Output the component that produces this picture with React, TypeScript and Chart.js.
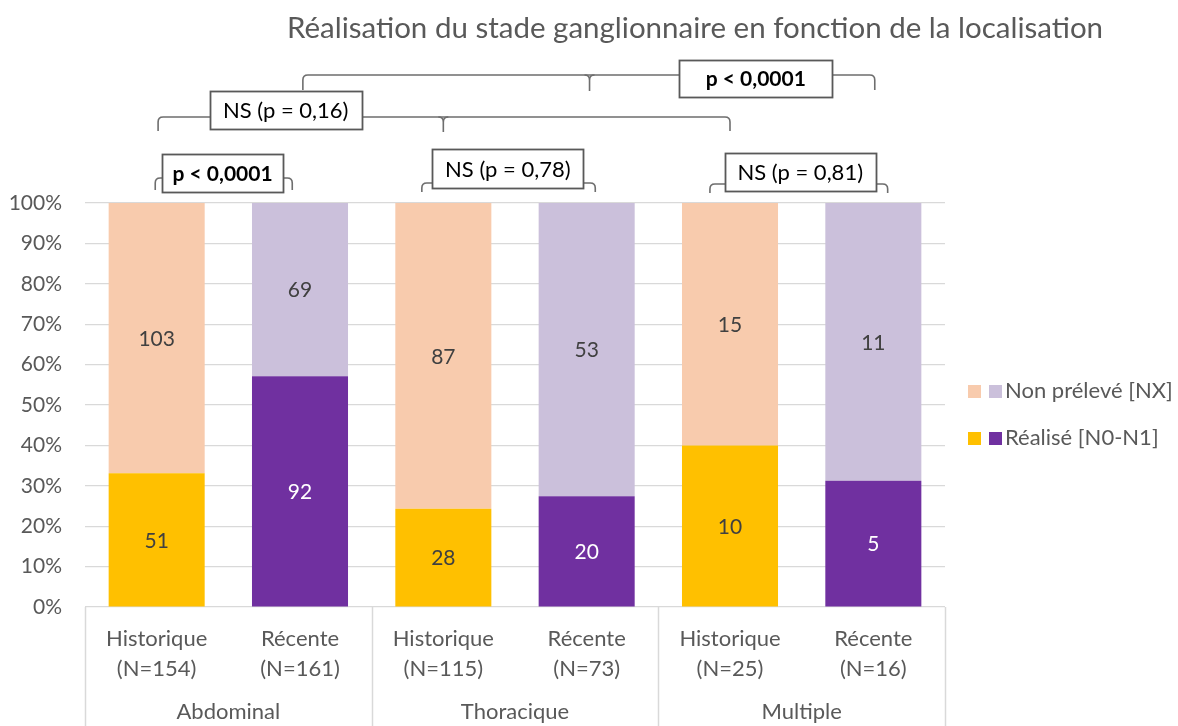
import React, { useEffect, useRef } from 'react';
import { Chart, registerables } from 'chart.js';

Chart.register(...registerables);

const periods = ['Historique', 'Récente', 'Historique', 'Récente', 'Historique', 'Récente'];
const totals = ['(N=154)', '(N=161)', '(N=115)', '(N=73)', '(N=25)', '(N=16)'];
const groups = ['Abdominal', 'Thoracique', 'Multiple'];
const realise = [51, 92, 28, 20, 10, 5];
const nonPreleve = [103, 69, 87, 53, 15, 11];
const yTicks = [0, 10, 20, 30, 40, 50, 60, 70, 80, 90, 100];
const legendLabels = ['Non prélevé [NX]', 'Réalisé [N0-N1]'];

const ORANGE = '#FFC000';
const PEACH = '#F8CBAD';
const PURPLE = '#7030A0';
const LAVENDER = '#CBC0DB';
const FONT = 'Lato, "Open Sans", sans-serif';
const TXT = '#595959';

// annotation brackets: x in category-index units, y in canvas px
const brackets = [
  { x1: -0.01, xm: null, x2: 0.946, y: 178, yb: 190, cx: 0.46, w: 121, bt: 154, bh: 38, text: 'p < 0,0001', bold: true },
  { x1: 0.01, xm: 2.0, x2: 4.0, y: 117, yb: 131, cx: 0.9, w: 152, bt: 91, bh: 38, text: 'NS (p = 0,16)', bold: false },
  { x1: 1.02, xm: 3.02, x2: 5.01, y: 75, yb: 90, cx: 4.18, w: 153, bt: 60, bh: 37, text: 'p < 0,0001', bold: true },
  { x1: 1.85, xm: null, x2: 3.06, y: 183, yb: 192, cx: 2.45, w: 151, bt: 149, bh: 39, text: 'NS (p = 0,78)', bold: false },
  { x1: 3.86, xm: null, x2: 5.1, y: 184, yb: 193, cx: 4.49, w: 151, bt: 153, bh: 38, text: 'NS (p = 0,81)', bold: false },
];

const pct = (a: number[], b: number[]) => a.map((v, i) => (v / (v + b[i])) * 100);

const overlayPlugin = {
  id: 'overlay',
  afterDatasetsDraw(chart: any) {
    const ctx = chart.ctx;
    ctx.save();
    ctx.font = `21px ${FONT}`;
    ctx.textAlign = 'center';
    ctx.textBaseline = 'middle';
    chart.data.datasets.forEach((ds: any, di: number) => {
      const meta = chart.getDatasetMeta(di);
      meta.data.forEach((bar: any, i: number) => {
        const counts = di === 0 ? realise : nonPreleve;
        const y = (bar.y + bar.base) / 2;
        const isPurple = di === 0 && i % 2 === 1;
        ctx.fillStyle = isPurple ? '#FFFFFF' : '#404040';
        ctx.fillText(String(counts[i]), bar.x, y + 1);
      });
    });
    ctx.restore();
  },
  afterDraw(chart: any) {
    const ctx = chart.ctx;
    const xs = chart.scales.x;
    const area = chart.chartArea;
    const H = chart.height;
    ctx.save();
    // title
    ctx.fillStyle = TXT;
    ctx.font = `29.5px ${FONT}`;
    ctx.textAlign = 'center';
    ctx.textBaseline = 'middle';
    ctx.fillText('Réalisation du stade ganglionnaire en fonction de la localisation', 695, 28);

    // group separators and labels
    ctx.strokeStyle = '#D9D9D9';
    ctx.lineWidth = 1.5;
    [-0.5, 1.5, 3.5, 5.5].forEach((v) => {
      const x = Math.round(xs.getPixelForValue(v)) + 0.5;
      ctx.beginPath();
      ctx.moveTo(x, area.bottom);
      ctx.lineTo(x, H);
      ctx.stroke();
    });
    ctx.fillStyle = TXT;
    ctx.font = `22px ${FONT}`;
    groups.forEach((g, i) => {
      ctx.fillText(g, xs.getPixelForValue(i * 2 + 0.5), 712);
    });

    // brackets
    const r = 5;
    brackets.forEach((b) => {
      const x1 = xs.getPixelForValue(b.x1);
      const x2 = xs.getPixelForValue(b.x2);
      ctx.strokeStyle = '#6E6E6E';
      ctx.lineWidth = 1.6;
      ctx.beginPath();
      ctx.moveTo(x1, b.yb);
      ctx.lineTo(x1, b.y + r);
      ctx.quadraticCurveTo(x1, b.y, x1 + r, b.y);
      ctx.lineTo(x2 - r, b.y);
      ctx.quadraticCurveTo(x2, b.y, x2, b.y + r);
      ctx.lineTo(x2, b.yb);
      ctx.stroke();
      if (b.xm !== null) {
        const xm = xs.getPixelForValue(b.xm);
        ctx.beginPath();
        ctx.moveTo(xm - r, b.y);
        ctx.quadraticCurveTo(xm, b.y, xm, b.y + r);
        ctx.lineTo(xm, b.yb + 1);
        ctx.moveTo(xm + r, b.y);
        ctx.quadraticCurveTo(xm, b.y, xm, b.y + r);
        ctx.stroke();
      }
      const cx = xs.getPixelForValue(b.cx);
      const bx = Math.round(cx - b.w / 2) + 0.5;
      ctx.fillStyle = '#FFFFFF';
      ctx.fillRect(bx, b.bt, b.w, b.bh);
      ctx.strokeStyle = '#595959';
      ctx.lineWidth = 1.8;
      ctx.strokeRect(bx, b.bt + 0.5, b.w, b.bh);
      ctx.fillStyle = '#000000';
      ctx.font = `${b.bold ? 'bold ' : ''}${b.bold ? 21 : 22}px ${FONT}`;
      ctx.textAlign = 'center';
      ctx.textBaseline = 'middle';
      ctx.fillText(b.text, cx, b.bt + b.bh / 2 + 1);
    });

    // legend
    const rows = [
      { y: 391, c1: PEACH, c2: LAVENDER, label: legendLabels[0] },
      { y: 438, c1: ORANGE, c2: PURPLE, label: legendLabels[1] },
    ];
    rows.forEach((row) => {
      ctx.fillStyle = row.c1;
      ctx.fillRect(968, row.y - 6, 13, 13);
      ctx.fillStyle = row.c2;
      ctx.fillRect(989, row.y - 6, 13, 13);
      ctx.fillStyle = TXT;
      ctx.font = `22px ${FONT}`;
      ctx.textAlign = 'left';
      ctx.textBaseline = 'middle';
      ctx.fillText(row.label, 1005, row.y);
    });
    ctx.restore();
  },
};

export default function App() {
  const ref = useRef<HTMLCanvasElement | null>(null);
  useEffect(() => {
    if (!ref.current) return;
    const labels = periods.map((p, i) => [p, totals[i]]);
    const chart = new Chart(ref.current, {
      type: 'bar',
      data: {
        labels,
        datasets: [
          {
            label: legendLabels[1],
            data: pct(realise, nonPreleve),
            backgroundColor: periods.map((_, i) => (i % 2 === 0 ? ORANGE : PURPLE)),
            barPercentage: 0.67,
            categoryPercentage: 1,
          },
          {
            label: legendLabels[0],
            data: pct(nonPreleve, realise),
            backgroundColor: periods.map((_, i) => (i % 2 === 0 ? PEACH : LAVENDER)),
            barPercentage: 0.67,
            categoryPercentage: 1,
          },
        ],
      },
      options: {
        responsive: false,
        animation: false,
        layout: { padding: { top: 203, right: 233, left: 0, bottom: 0 } },
        plugins: { legend: { display: false }, title: { display: false }, tooltip: { enabled: false } },
        scales: {
          x: {
            stacked: true,
            grid: { display: false },
            border: { display: false },
            ticks: {
              color: TXT,
              font: { family: FONT, size: 22, lineHeight: 1.36 },
              padding: 9,
              maxRotation: 0,
              autoSkip: false,
            },
            afterFit: (s: any) => {
              s.height = 119;
            },
          },
          y: {
            stacked: true,
            min: 0,
            max: 100,
            afterBuildTicks: (s: any) => {
              s.ticks = yTicks.map((v) => ({ value: v }));
            },
            grid: { color: '#D9D9D9', lineWidth: 1.2, drawTicks: false },
            border: { display: false },
            ticks: {
              color: TXT,
              font: { family: FONT, size: 21 },
              padding: 23,
              callback: (v: any) => `${v}%`,
            },
            afterFit: (s: any) => {
              s.width = 85;
            },
          },
        },
      },
      plugins: [overlayPlugin],
    });
    return () => chart.destroy();
  }, []);
  return (
    <div style={{ position: 'fixed', left: 0, top: 0, width: 1178, height: 726, background: '#fff' }}>
      <canvas ref={ref} width={1178} height={726} />
    </div>
  );
}
